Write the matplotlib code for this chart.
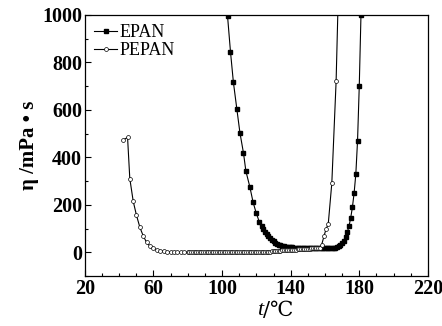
import matplotlib
matplotlib.use("Agg")
import matplotlib.pyplot as plt
from matplotlib.ticker import MultipleLocator, FixedLocator

plt.rcParams['font.family'] = ['Liberation Serif', 'DejaVu Serif', 'DejaVu Sans']

# EPAN viscosity vs temperature
epan_t = [103.2, 104.9, 106.6, 108.6, 110.4, 112.5, 113.9, 116.2, 118.1, 119.9,
          121.8, 123, 124, 125, 126, 127, 128, 129, 130, 131, 132, 133, 134, 135,
          136, 137, 138, 139, 140, 141, 142, 143, 144, 145, 146, 147, 148, 149,
          150, 151, 152, 153, 154, 155, 156, 157, 158, 159, 160, 161, 162, 163,
          164, 165, 166, 167, 168, 169, 170, 171, 172, 173, 174, 175, 176, 177,
          178, 179, 180, 181]
epan_eta = [995, 846, 717, 605, 505, 418, 342, 276, 211, 166,
            127, 110, 97, 86, 76, 67, 59, 52, 46, 41, 37, 33, 30, 27,
            25, 24, 23, 22, 21, 21, 20, 20, 20, 19, 19, 19, 19, 18,
            18, 18, 18, 18, 17, 17, 17, 17, 17, 17, 17, 17, 17, 18,
            18, 19, 20, 22, 26, 32, 40, 50, 64, 84, 110, 145, 190, 250,
            330, 470, 700, 1000]

# PEPAN viscosity vs temperature
pepan_t = [42.4, 44.9, 46.2, 48.2, 50.1, 52.1, 54.0, 56.0, 57.9, 60, 62, 64,
           66, 68, 70, 72, 74, 76, 78, 80, 81, 82, 83, 84, 85, 86, 87, 88, 89,
           90, 91, 92, 93, 94, 95, 96, 97, 98, 99, 100, 101, 102, 103, 104,
           105, 106, 107, 108, 109, 110, 111, 112, 113, 114, 115, 116, 117,
           118, 119, 120, 121, 122, 123, 124, 125, 126, 127, 128, 129, 130,
           131, 132, 133, 134, 135, 136, 137, 138, 139, 140, 141, 142, 143,
           144, 145, 146, 147, 148, 149, 150, 151, 152, 153, 154, 155, 156,
           157, 158, 159.5, 160.7, 161.9, 164.0, 166.5, 168]
pepan_eta = [474, 484, 311, 215, 156, 105, 70, 42, 27, 17, 11, 7,
             5, 3, 2, 1, 1, 0, 0, 0, 0, 0, 0, 0, 0, 0, 0, 0, 0,
             0, 0, 0, 0, 0, 0, 0, 0, 0, 0, 0, 0, 0, 0, 0,
             0, 0, 0, 0, 1, 1, 1, 1, 1, 1, 1, 1, 1,
             1, 1, 2, 2, 2, 2, 2, 3, 3, 3, 3, 4, 4,
             5, 5, 6, 7, 8, 9, 9, 10, 10, 11, 11, 12, 12,
             13, 13, 14, 14, 15, 15, 16, 16, 17, 17, 18, 18, 19,
             20, 30, 70, 100, 118, 292, 720, 1150]

fig = plt.figure(figsize=(4.42, 3.26), dpi=100)
ax = fig.add_axes([0.192, 0.153, 0.776, 0.801])

ax.plot(epan_t, epan_eta, '-', color='black', lw=0.8, marker='s', ms=2.2,
        mfc='black', mec='black', label='EPAN')
ax.plot(pepan_t, pepan_eta, '-', color='black', lw=0.8, marker='o', ms=2.8,
        mfc='white', mec='black', mew=0.5, label='PEPAN')

ax.set_xlim(20, 220)
ax.set_ylim(-100, 1000)
ax.xaxis.set_major_locator(FixedLocator([20, 60, 100, 140, 180, 220]))
ax.xaxis.set_minor_locator(MultipleLocator(10))
ax.yaxis.set_major_locator(MultipleLocator(200))
ax.yaxis.set_minor_locator(MultipleLocator(100))
ax.tick_params(which='both', direction='in', top=False, right=False)
ax.tick_params(which='major', length=4, width=0.8, labelsize=14.5, pad=2)
ax.tick_params(which='minor', length=2.5, width=0.8)
for lab in ax.get_xticklabels() + ax.get_yticklabels():
    lab.set_fontweight('bold')
for sp in ax.spines.values():
    sp.set_linewidth(0.9)

# x label: italic t followed by /℃
ax.annotate('t', xy=(0.52, 0), xycoords='axes fraction', xytext=(0, -18),
            textcoords='offset points', ha='right', va='top', fontsize=16,
            style='italic', family=['Liberation Serif', 'DejaVu Sans'])
ax.annotate('/℃', xy=(0.52, 0), xycoords='axes fraction', xytext=(0, -18),
            textcoords='offset points', ha='left', va='top', fontsize=15,
            family=['DejaVu Serif', 'DejaVu Sans'])
ax.set_ylabel('η /mPa • s', fontsize=15, fontweight='bold', labelpad=2)

ax.legend(loc='upper left', frameon=False, fontsize=13, handlelength=1.3,
          handletextpad=0.1, borderaxespad=0.2, labelspacing=0.05,
          borderpad=0.3)

fig.savefig('out.png', dpi=100)
